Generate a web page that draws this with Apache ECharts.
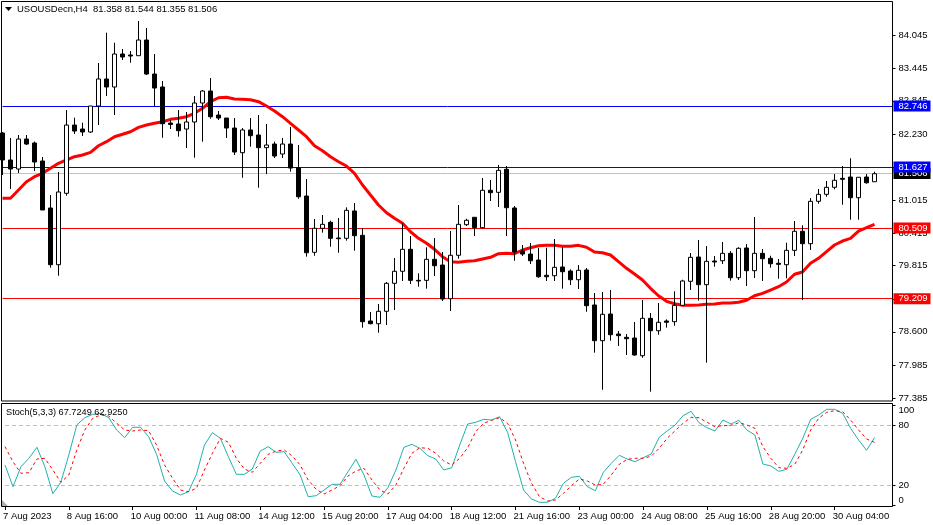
<!DOCTYPE html>
<html style="height: 100%">
<head>
<meta charset="utf-8">
<title>USOUSDecn H4</title>
<script src="https://cdn.jsdelivr.net/npm/echarts@6/dist/echarts.min.js"></script>
</head>
<body style="height: 100%; margin: 0; background: #fff">
<div id="container" style="width: 933px; height: 525px"></div>
<script type="text/javascript">
// H4 bars, index 0 = 7 Aug 2023
var opens = [82.254,81.758,81.592,82.143,82.070,81.739,80.876,79.834,81.146,82.400,82.327,82.272,82.750,83.246,83.099,83.705,83.687,83.674,83.962,83.337,
  83.099,82.437,82.419,82.327,82.456,82.805,83.025,82.584,82.529,82.345,81.892,82.309,82.217,81.984,82.051,81.868,82.051,81.616,81.096,80.062,
  80.503,80.613,80.325,80.319,80.821,80.374,78.800,78.750,78.978,79.492,79.713,80.117,79.547,79.547,79.933,79.828,79.209,80.007,80.569,80.705,
  80.514,81.201,81.164,81.587,80.876,80.086,80.030,79.920,79.639,79.632,79.792,79.718,79.558,79.737,79.094,78.438,78.928,78.561,78.500,78.487,
  78.162,78.849,78.621,78.800,78.787,79.088,79.529,79.975,79.467,79.902,79.907,80.043,79.595,80.141,79.724,80.043,79.951,79.860,79.834,80.098,
  80.448,80.220,80.999,81.127,81.256,81.421,81.445,81.065,81.445,81.358];
var closes = [81.758,81.592,82.143,82.051,81.721,80.839,79.834,81.170,82.400,82.290,82.272,82.750,83.246,83.099,83.705,83.650,83.668,83.962,83.337,83.080,
  82.424,82.410,82.296,82.456,82.805,83.025,82.553,82.529,82.345,81.904,82.309,82.204,81.984,82.033,81.831,82.051,81.610,81.083,80.054,80.503,
  80.576,80.319,80.312,80.833,80.367,78.787,78.750,78.978,79.492,79.713,80.117,79.547,79.535,79.933,79.816,79.204,80.007,80.576,80.650,80.514,
  81.201,81.157,81.568,80.881,80.067,80.030,79.907,79.613,79.613,79.786,79.705,79.558,79.731,79.081,78.438,78.923,78.548,78.530,78.474,78.175,
  78.849,78.621,78.776,78.776,79.088,79.535,79.970,79.467,79.896,79.884,80.043,79.595,80.135,79.724,80.043,79.944,79.852,79.841,80.098,80.448,
  80.220,80.999,81.127,81.256,81.385,81.403,81.065,81.440,81.340,81.506];
var highs = [82.272,82.162,82.217,82.217,82.097,81.813,81.114,81.537,82.676,82.535,82.443,82.750,83.540,84.096,83.912,83.797,83.760,84.311,84.183,83.705,
  83.209,82.492,82.676,82.639,82.933,83.044,83.264,82.658,82.529,82.529,82.345,82.529,82.584,82.419,82.094,82.162,82.364,82.033,81.408,80.674,
  80.747,80.642,80.692,80.889,80.967,80.503,78.965,79.112,79.516,79.957,80.595,80.361,79.676,80.154,80.325,80.067,80.453,80.931,80.679,80.705,
  81.427,81.390,81.666,81.647,80.912,80.196,80.233,80.141,80.146,80.306,80.159,79.749,79.828,79.773,79.314,79.332,79.369,78.616,78.561,78.781,
  79.185,78.947,79.130,78.831,79.345,79.558,80.049,80.288,80.177,79.994,80.251,80.086,80.154,80.214,80.710,80.122,79.999,79.939,80.238,80.637,
  80.558,81.059,81.225,81.372,81.500,81.647,81.789,81.445,81.500,81.544];
var lows = [81.482,81.225,81.519,82.033,81.555,80.839,79.779,79.632,81.102,82.235,82.198,82.254,82.400,82.933,82.584,83.595,83.545,83.674,83.319,82.750,
  82.167,82.327,82.186,81.978,81.800,82.094,82.516,82.492,82.162,81.849,81.432,82.002,81.249,81.500,81.794,81.794,81.543,81.046,79.981,79.999,
  80.422,80.165,80.054,80.275,80.091,78.677,78.739,78.585,78.726,79.002,79.535,79.479,79.430,79.393,79.626,79.167,78.983,79.944,80.545,80.361,
  80.503,81.004,80.894,80.361,79.907,79.994,79.847,79.595,79.535,79.535,79.393,79.461,79.387,78.970,78.217,77.537,78.438,78.340,78.175,78.162,
  78.125,77.501,78.548,78.677,78.713,79.075,79.369,79.173,78.034,79.797,79.847,79.540,79.553,79.443,79.590,79.535,79.779,79.577,79.584,79.994,
  79.185,80.104,80.955,81.083,81.219,80.936,80.661,80.661,81.322,81.355];
var maLine = [81.054,81.054,81.206,81.359,81.451,81.513,81.605,81.697,81.758,81.818,81.849,81.899,82.020,82.094,82.186,82.230,82.277,82.358,82.400,82.432,
  82.461,82.505,82.524,82.553,82.615,82.707,82.829,82.902,82.909,82.878,82.873,82.865,82.829,82.750,82.658,82.553,82.432,82.309,82.186,82.020,
  81.928,81.818,81.726,81.647,81.513,81.298,81.114,80.931,80.789,80.686,80.595,80.440,80.319,80.227,80.117,79.981,79.889,79.878,79.896,79.907,
  79.939,79.970,80.036,80.043,80.036,80.104,80.146,80.183,80.190,80.190,80.172,80.172,80.190,80.154,80.067,80.054,80.012,79.889,79.768,79.663,
  79.553,79.400,79.264,79.161,79.117,79.088,79.088,79.094,79.106,79.112,79.130,79.130,79.143,79.180,79.264,79.308,79.369,79.430,79.516,79.658,
  79.700,79.860,79.951,80.073,80.196,80.269,80.319,80.453,80.514,80.576];
var stochMain = [40.3,18.6,38.6,47,58,38.6,11.6,23,50.3,80.3,87.6,91,92,87.6,75.3,67.6,78,78,68.6,51,
  24.3,14.3,10.3,13.6,31,60.3,72.6,67,48.6,31,31,36.3,54.3,58.6,53,53.6,42,30.3,8.6,9.6,
  15.3,21,21,33.6,46,30.3,9.3,8,17.6,35.3,58,61,57,49.6,46.3,35.3,37.6,60.3,81.3,83,
  86,85.3,88.6,73,43.6,15.3,6.3,3,3,7,22,28,29,18.6,14.6,33,42,50,46.3,43.6,
  47.6,51.3,68,74.3,80.3,89.6,94,82.6,77.6,74.3,85.3,81.3,85,75.3,70.3,41.3,39.3,34,36,51,
  67,86,90.3,96,96,92,77,65.3,55,67.7];
var stochSignal = [58.6,43.6,32,32.6,46.3,47,35.3,23,30.3,55.3,75.3,87,90.3,89.3,82,75.3,74.3,75.3,74.6,60.3,
  40.3,27,15.3,13.6,17,35.3,52,67,63,47,36.3,33,42,51,54.3,55.3,49.3,40.3,25.3,16,
  11.3,15.3,19.6,29.3,34.3,37,25.3,15.3,11.3,20.3,37,52,57.6,57,52,44.3,40.3,47,57.6,73.6,
  82,85,87.6,82,65.3,42,22,8.6,4.3,5.3,12,19.6,26.3,24.3,20.3,21,30.3,41,46,47,
  47,49,57,67,74.6,82,88,87.6,83,78.6,79.6,80,82.6,80.3,77,58.6,47,37.6,37,41,
  55.3,75.3,87,93,94.6,93.6,85.3,75.3,66.3,62.9];
var tickLabels = ['7 Aug 2023','8 Aug 16:00','10 Aug 00:00','11 Aug 08:00','14 Aug 12:00','15 Aug 20:00','17 Aug 04:00',
  '18 Aug 12:00','21 Aug 16:00','23 Aug 00:00','24 Aug 08:00','25 Aug 16:00','28 Aug 20:00','30 Aug 04:00'];
var priceTicks = [84.045,83.445,82.845,82.230,81.630,81.015,80.415,79.815,79.200,78.600,77.985,77.385];
var stochTicks = [0,20,80,100];
var bluePrices = [82.746,81.627];
var redPrices = [80.509,79.209];
var lastPrice = 81.506;

var FONT = '"Liberation Sans"';
var SIZE = 9.5;
var dom = document.getElementById('container');
var myChart = echarts.init(dom);

var candles = opens.map(function (o, i) {
  return [i, o, closes[i], lows[i], highs[i]];
});
function withIndex(arr) {
  return arr.map(function (v, i) { return [i, v]; });
}
function priceLine(value, color, bgColor) {
  return {
    yAxis: value,
    lineStyle: { color: color, width: 1, type: 'solid' },
    label: {
      show: true, position: 'end', distance: 1,
      formatter: value.toFixed(3),
      color: '#fff', backgroundColor: bgColor,
      fontFamily: FONT, fontSize: SIZE,
      width: 32, height: 11, lineHeight: 11, padding: [0, 0, 0, 5]
    }
  };
}
var levelLines = [priceLine(lastPrice, '#c0c0c0', '#000')];
redPrices.forEach(function (p) { levelLines.push(priceLine(p, '#ff0000', '#ff0000')); });
bluePrices.forEach(function (p) { levelLines.push(priceLine(p, '#0000ff', '#0000ff')); });

var option = {
  animation: false,
  backgroundColor: '#fff',
  textStyle: { fontFamily: FONT },
  title: [
    { text: 'USOUSDecn,H4  81.358 81.544 81.355 81.506', left: 17, top: 4, padding: 0,
      textStyle: { fontFamily: FONT, fontSize: SIZE, fontWeight: 'normal', color: '#000' } },
    { text: 'Stoch(5,3,3) 67.7249 62.9250', left: 6, top: 408, padding: 0,
      textStyle: { fontFamily: FONT, fontSize: 9.2, fontWeight: 'normal', color: '#000' } }
  ],
  grid: [
    { left: 2.5, top: 1, width: 890, height: 400 },
    { left: 2.5, top: 404, width: 890, height: 102 }
  ],
  xAxis: [
    { type: 'value', gridIndex: 0, min: 0, max: 111.25, interval: 8,
      axisLine: { show: false, onZero: false }, axisTick: { show: false }, axisLabel: { show: false }, splitLine: { show: false } },
    { type: 'value', gridIndex: 1, min: 0, max: 111.25, interval: 8,
      axisLine: { show: false, onZero: false },
      axisTick: { show: true, length: 4, lineStyle: { color: '#000' } },
      splitLine: { show: false },
      axisLabel: {
        show: true, margin: 5, align: 'left', color: '#000', fontFamily: FONT, fontSize: SIZE,
        showMinLabel: true, showMaxLabel: false, padding: [0, 0, 0, -2],
        formatter: function (v) { return v % 8 === 0 ? (tickLabels[v / 8] || '') : ''; }
      } }
  ],
  yAxis: [
    { type: 'value', gridIndex: 0, position: 'right', min: 77.33, max: 84.679,
      axisLine: { show: false, onZero: false },
      axisTick: { show: true, length: 3, lineStyle: { color: '#000' }, customValues: priceTicks },
      splitLine: { show: false },
      axisLabel: { margin: 6, color: '#000', fontFamily: FONT, fontSize: SIZE, customValues: priceTicks,
        formatter: function (v) { return v.toFixed(3); } } },
    { type: 'value', gridIndex: 1, position: 'right', min: -0.7, max: 101.3,
      axisLine: { show: false, onZero: false },
      axisTick: { show: true, length: 3, lineStyle: { color: '#000' }, customValues: stochTicks },
      splitLine: { show: false },
      axisLabel: { margin: 6, color: '#000', fontFamily: FONT, fontSize: SIZE, customValues: stochTicks,
        verticalAlignMinLabel: 'bottom', verticalAlignMaxLabel: 'top' } }
  ],
  series: [
    {
      name: 'MA', type: 'line', xAxisIndex: 0, yAxisIndex: 0, z: 2,
      data: withIndex(maLine), showSymbol: false, symbol: 'none',
      lineStyle: { color: '#ff0000', width: 3 },
      markLine: { silent: true, symbol: 'none', z: 1, animation: false, data: levelLines }
    },
    {
      name: 'USOUSDecn', type: 'candlestick', xAxisIndex: 0, yAxisIndex: 0, z: 3,
      data: candles, barWidth: 5,
      itemStyle: { color: '#fff', color0: '#000', borderColor: '#000', borderColor0: '#000', borderWidth: 1 }
    },
    {
      name: 'Main', type: 'line', xAxisIndex: 1, yAxisIndex: 1, z: 3,
      data: withIndex(stochMain), showSymbol: false, symbol: 'none',
      lineStyle: { color: '#20b2aa', width: 1 },
      markLine: {
        silent: true, symbol: 'none', z: 1, animation: false, label: { show: false },
        lineStyle: { color: '#c0c0c0', type: [4, 3], width: 1 },
        data: [{ yAxis: 80 }, { yAxis: 20 }]
      }
    },
    {
      name: 'Signal', type: 'line', xAxisIndex: 1, yAxisIndex: 1, z: 4,
      data: withIndex(stochSignal), showSymbol: false, symbol: 'none',
      lineStyle: { color: '#ff0000', width: 1, type: [3, 3] }
    }
  ],
  // panel frames and the two small MT4 glyphs
  graphic: [
    { type: 'rect', z: 100, shape: { x: 1.5, y: 1.5, width: 891, height: 399.5 }, style: { fill: 'none', stroke: '#000', lineWidth: 1 } },
    { type: 'rect', z: 100, shape: { x: 1.5, y: 403.5, width: 891, height: 103 }, style: { fill: 'none', stroke: '#000', lineWidth: 1 } },
    { type: 'polygon', z: 100, shape: { points: [[5, 7], [12, 7], [8.5, 11]] }, style: { fill: '#000' } },
    { type: 'polygon', z: 100, shape: { points: [[2, 500], [2, 506], [8, 506]] }, style: { fill: '#b0b0b0' } }
  ]
};
myChart.setOption(option);
</script>
</body>
</html>
